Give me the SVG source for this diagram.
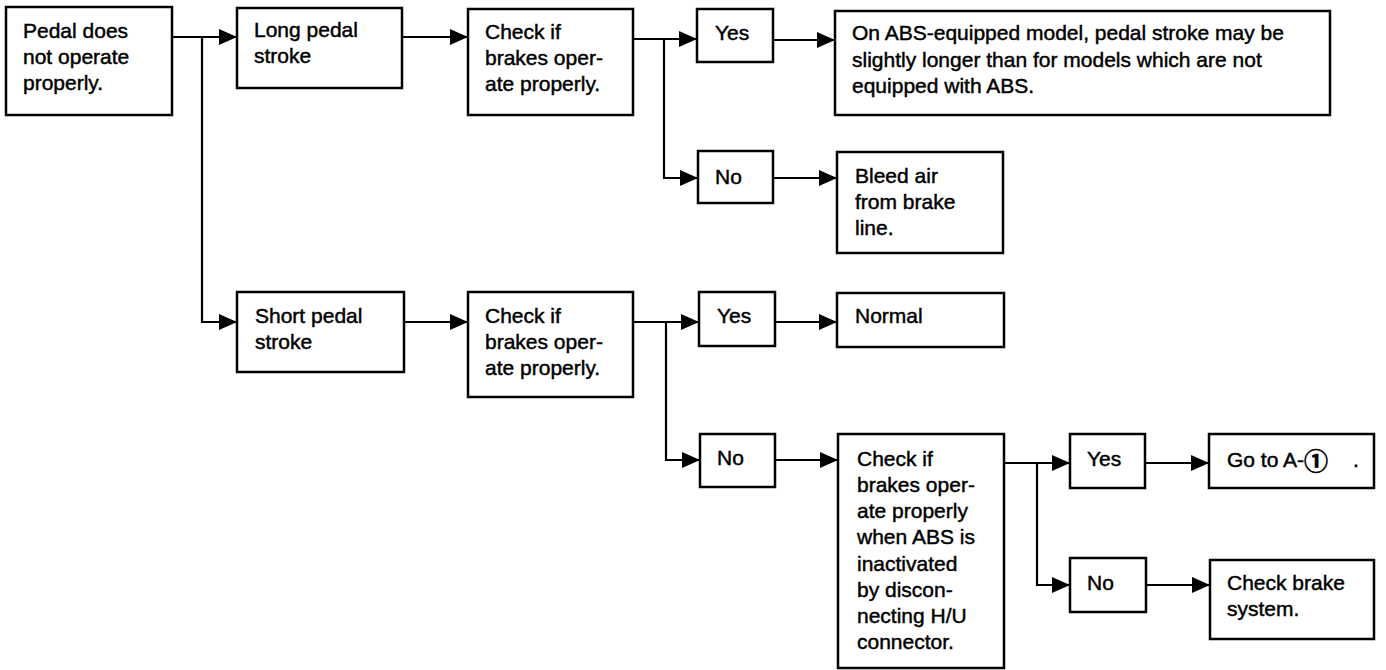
<svg xmlns="http://www.w3.org/2000/svg" width="1386" height="670" viewBox="0 0 1386 670">
<defs>
<marker id="ah" markerUnits="userSpaceOnUse" markerWidth="19" markerHeight="16" refX="18" refY="8" orient="auto">
<path d="M0,0 L18,8 L0,16 z" fill="#000"/>
</marker>
<style>
.box{fill:#fff;stroke:#000;stroke-width:2.5}
.t{font-family:"Liberation Sans","DejaVu Sans",Arial,sans-serif;font-size:21px;fill:#000;stroke:#000;stroke-width:0.45}
.c{fill:none;stroke:#000;stroke-width:2.2;marker-end:url(#ah)}
.circ{font-family:"Noto Sans CJK JP","DejaVu Sans",sans-serif;font-size:24px;font-weight:bold;stroke-width:0.6}
</style>
</defs>
<rect width="1386" height="670" fill="#fff"/>
<g id="connectors">
<path class="c" d="M172,37 H237"/>
<path class="c" d="M202,37 V322 H237"/>
<path class="c" d="M402,37 H468"/>
<path class="c" d="M633,39 H697"/>
<path class="c" d="M664,39 V178 H698"/>
<path class="c" d="M773,40 H835"/>
<path class="c" d="M773,178 H837"/>
<path class="c" d="M404,322 H468"/>
<path class="c" d="M633,322 H699"/>
<path class="c" d="M666,322 V460 H700"/>
<path class="c" d="M775,322 H837"/>
<path class="c" d="M775,460 H838"/>
<path class="c" d="M1004,463 H1070"/>
<path class="c" d="M1037,463 V585 H1070"/>
<path class="c" d="M1145,463 H1209"/>
<path class="c" d="M1146,585 H1210"/>
</g>
<g id="n-pedal">
<rect class="box" x="6" y="7" width="166" height="108"/>
<text class="t" x="23" y="38">Pedal does</text>
<text class="t" x="23" y="64">not operate</text>
<text class="t" x="23" y="90">properly.</text>
</g>
<g id="n-long">
<rect class="box" x="237" y="8" width="165" height="80"/>
<text class="t" x="254" y="37">Long pedal</text>
<text class="t" x="254" y="63">stroke</text>
</g>
<g id="n-check1">
<rect class="box" x="468" y="9" width="165" height="106"/>
<text class="t" x="485" y="39">Check if</text>
<text class="t" x="485" y="65">brakes oper-</text>
<text class="t" x="485" y="91">ate properly.</text>
</g>
<g id="n-yes1">
<rect class="box" x="697" y="9" width="76" height="53"/>
<text class="t" x="715" y="40">Yes</text>
</g>
<g id="n-abs">
<rect class="box" x="835" y="11" width="495" height="104"/>
<text class="t" x="852" y="40">On ABS-equipped model, pedal stroke may be</text>
<text class="t" x="852" y="67">slightly longer than for models which are not</text>
<text class="t" x="852" y="93">equipped with ABS.</text>
</g>
<g id="n-no1">
<rect class="box" x="698" y="151" width="75" height="52"/>
<text class="t" x="715" y="184">No</text>
</g>
<g id="n-bleed">
<rect class="box" x="837" y="152" width="166" height="101"/>
<text class="t" x="855" y="183">Bleed air</text>
<text class="t" x="855" y="209">from brake</text>
<text class="t" x="855" y="235">line.</text>
</g>
<g id="n-short">
<rect class="box" x="237" y="292" width="167" height="80"/>
<text class="t" x="255" y="323">Short pedal</text>
<text class="t" x="255" y="349">stroke</text>
</g>
<g id="n-check2">
<rect class="box" x="468" y="292" width="165" height="105"/>
<text class="t" x="485" y="323">Check if</text>
<text class="t" x="485" y="349">brakes oper-</text>
<text class="t" x="485" y="375">ate properly.</text>
</g>
<g id="n-yes2">
<rect class="box" x="699" y="292" width="76" height="54"/>
<text class="t" x="717" y="323">Yes</text>
</g>
<g id="n-normal">
<rect class="box" x="837" y="293" width="167" height="54"/>
<text class="t" x="855" y="323">Normal</text>
</g>
<g id="n-no2">
<rect class="box" x="700" y="434" width="75" height="53"/>
<text class="t" x="717" y="465">No</text>
</g>
<g id="n-hu">
<rect class="box" x="838" y="434" width="166" height="234"/>
<text class="t" x="857" y="466">Check if</text>
<text class="t" x="857" y="492">brakes oper-</text>
<text class="t" x="857" y="518">ate properly</text>
<text class="t" x="857" y="544">when ABS is</text>
<text class="t" x="857" y="571">inactivated</text>
<text class="t" x="857" y="597">by discon-</text>
<text class="t" x="857" y="623">necting H/U</text>
<text class="t" x="857" y="649">connector.</text>
</g>
<g id="n-yes3">
<rect class="box" x="1070" y="434" width="75" height="54"/>
<text class="t" x="1087" y="466">Yes</text>
</g>
<g id="n-goto">
<rect class="box" x="1209" y="434" width="165" height="54"/>
<text class="t" x="1227" y="467">Go to A-<tspan class="circ" y="470">①</tspan><tspan x="1353" y="467">.</tspan></text>
</g>
<g id="n-no3">
<rect class="box" x="1070" y="558" width="76" height="54"/>
<text class="t" x="1087" y="590">No</text>
</g>
<g id="n-checkbrake">
<rect class="box" x="1210" y="560" width="164" height="79"/>
<text class="t" x="1227" y="590">Check brake</text>
<text class="t" x="1227" y="616">system.</text>
</g>
</svg>
